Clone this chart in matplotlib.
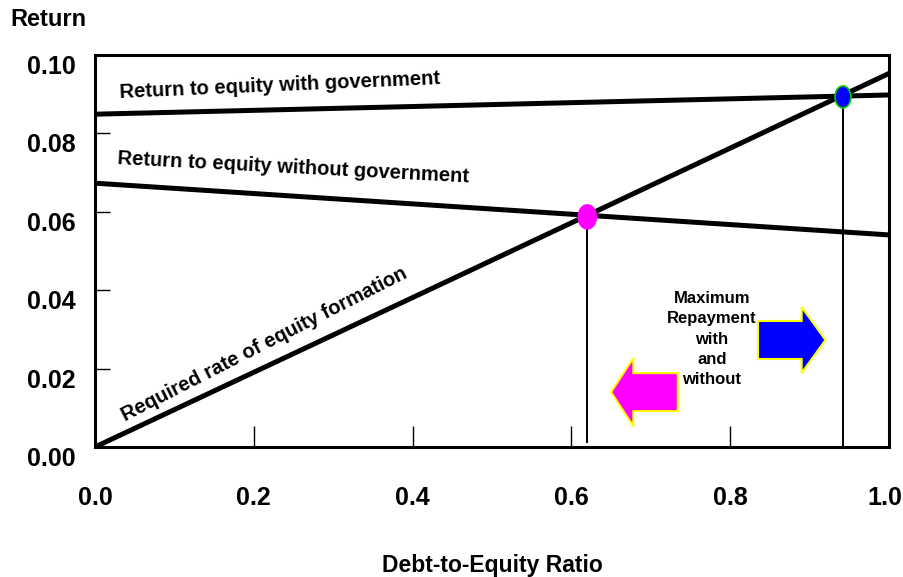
import numpy as np
import matplotlib
matplotlib.use("Agg")
import matplotlib.pyplot as plt
from matplotlib.patches import Ellipse, FancyArrow
from matplotlib.transforms import ScaledTranslation

plt.rcParams['font.family'] = ['Liberation Sans', 'DejaVu Sans']
plt.rcParams['font.weight'] = 'bold'
plt.rcParams['axes.labelweight'] = 'bold'

# line end points (debt-to-equity ratio vs return)
x_ends = [0.0, 1.0]
with_gov = [0.0849, 0.0898]
without_gov = [0.0673, 0.0541]
required = [0.0, 0.0953]

# intersection points
cross_x = [0.62, 0.942]
cross_y = [0.0587, 0.0893]
cross_colors = ['#ff00ff', '#0000ff']
cross_edges = ['#ff00ff', '#00cc00']

x_ticks = [0.0, 0.2, 0.4, 0.6, 0.8, 1.0]
y_ticks = [0.00, 0.02, 0.04, 0.06, 0.08, 0.10]

fig = plt.figure(figsize=(9.04, 5.77), dpi=100)
ax = fig.add_axes([95 / 904, 1 - 447 / 577, 794 / 904, 392 / 577])

ax.plot(x_ends, with_gov, color='black', lw=3.6, solid_capstyle='butt')
ax.plot(x_ends, without_gov, color='black', lw=3.6, solid_capstyle='butt')
ax.plot(x_ends, required, color='black', lw=3.6, solid_capstyle='butt')

# drop lines from intersections
ax.vlines(cross_x[0], 0.001, cross_y[0], color='black', lw=1.4)
ax.vlines(cross_x[1], 0.0, cross_y[1], color='black', lw=1.4)

for cx, cy, fc, ec, w, h in zip(cross_x, cross_y, cross_colors, cross_edges,
                                [0.0227, 0.020], [0.0061, 0.0056]):
    ax.add_patch(Ellipse((cx, cy), w, h, facecolor=fc, edgecolor=ec, lw=1.2, zorder=5))

# labels on lines
ax.text(0.233, 0.0923, 'Return to equity with government', fontsize=14.5,
        rotation=2.5, ha='center', va='center', rotation_mode='anchor')
ax.text(0.249, 0.0712, 'Return to equity without government', fontsize=14.5,
        rotation=-3, ha='center', va='center', rotation_mode='anchor')
ax.text(0.213, 0.0262, 'Required rate of equity formation', fontsize=14.5,
        rotation=27, ha='center', va='center', rotation_mode='anchor')

ax.text(0.777, 0.0275, 'Maximum\nRepayment\nwith\nand\nwithout', fontsize=12,
        ha='center', va='center', linespacing=1.45)

# arrows
ax.add_patch(FancyArrow(0.835, 0.0273, 0.085, 0, width=0.0097, head_width=0.0168,
                        head_length=0.030, length_includes_head=True,
                        facecolor='#0000ff', edgecolor='#ffff00', lw=1.5))
ax.add_patch(FancyArrow(0.734, 0.0140, -0.084, 0, width=0.0097, head_width=0.0174,
                        head_length=0.028, length_includes_head=True,
                        facecolor='#ff00ff', edgecolor='#ffff00', lw=1.5))

ax.set_xlim(0, 1)
ax.set_ylim(0, 0.10)
ax.set_xticks(x_ticks)
ax.set_yticks(y_ticks)
ax.set_xticklabels([f'{v:.1f}' for v in x_ticks])
ax.set_yticklabels([f'{v:.2f}' for v in y_ticks], va='top')
ax.tick_params(axis='x', direction='in', length=15, width=1, labelsize=18, pad=28)
ax.tick_params(axis='y', direction='in', length=11, width=1, labelsize=18, pad=14)
for s in ax.spines.values():
    s.set_linewidth(2.2)

# keep the last x label inside the figure
last = ax.get_xticklabels()[-1]
last.set_transform(last.get_transform() + ScaledTranslation(-4 / 100, 0, fig.dpi_scale_trans))

ax.set_xlabel('Debt-to-Equity Ratio', fontsize=16.5, labelpad=32)
fig.text(10 / 904, 1 - 20 / 577, 'Return', fontsize=17, ha='left', va='center')

fig.savefig('out.png', dpi=100)
